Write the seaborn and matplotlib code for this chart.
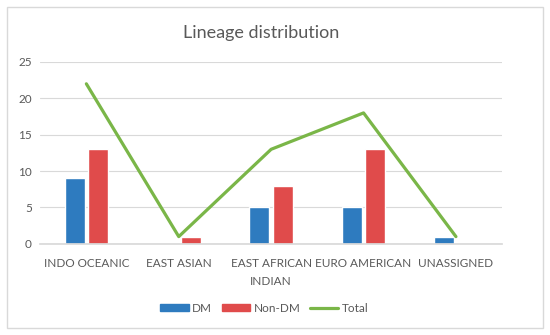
import matplotlib
matplotlib.use("Agg")
import matplotlib.pyplot as plt
import matplotlib.patches as mpatches
from matplotlib.lines import Line2D
import seaborn as sns
import pandas as pd
import numpy as np

categories = ["INDO OCEANIC", "EAST ASIAN", "EAST AFRICAN\nINDIAN", "EURO AMERICAN", "UNASSIGNED"]
dm = [9, 0, 5, 5, 1]
non_dm = [13, 1, 8, 13, 0]
total = [22, 1, 13, 18, 1]

blue = "#2E7BBF"
red = "#E04B4B"
green = "#7AB648"
grey_text = "#595959"

sns.set_theme(style="white")
plt.rcParams["font.family"] = ["Lato", "DejaVu Sans"]

df = pd.DataFrame({
    "lineage": categories * 2,
    "count": dm + non_dm,
    "group": ["DM"] * len(categories) + ["Non-DM"] * len(categories),
})

fig = plt.figure(figsize=(5.5, 3.35), dpi=100)
ax = fig.add_axes([0.073, 0.272, 0.84, 0.543])

sns.barplot(data=df, x="lineage", y="count", hue="group", order=categories,
            palette={"DM": blue, "Non-DM": red}, width=0.51, gap=0.15,
            saturation=1, legend=False, ax=ax)
sns.lineplot(x=np.arange(len(categories)), y=total, color=green, linewidth=2.3, ax=ax)

ax.set_ylim(0, 25)
ax.set_yticks([0, 5, 10, 15, 20, 25])
ax.set_xlim(-0.5, len(categories) - 0.5)
ax.yaxis.grid(True, color="#D9D9D9", linewidth=0.8)
ax.set_axisbelow(True)
for side in ["top", "right", "left"]:
    ax.spines[side].set_visible(False)
ax.spines["bottom"].set_color("#D9D9D9")
ax.set_xlabel("")
ax.set_ylabel("")
ax.tick_params(axis="y", length=0, labelsize=8.5, labelcolor=grey_text, pad=6)
ax.tick_params(axis="x", length=0, labelsize=8.5, labelcolor=grey_text, pad=10.5)
for lbl in ax.get_xticklabels():
    lbl.set_linespacing(1.75)

fig.text(0.475, 0.902, "Lineage distribution", ha="center", va="center",
         fontsize=13, color=grey_text)

handles = [
    mpatches.Patch(color=blue, label="DM"),
    mpatches.Patch(color=red, label="Non-DM"),
    Line2D([0], [0], color=green, linewidth=2.3, label="Total"),
]
fig.legend(handles=handles, loc="center", bbox_to_anchor=(0.481, 0.08), ncol=3,
           frameon=False, fontsize=8.5, labelcolor=grey_text,
           handlelength=2.4, handleheight=0.6, columnspacing=0.8, handletextpad=0.3)

fig.patches.append(mpatches.Rectangle((0.013, 0.02), 0.974, 0.96, transform=fig.transFigure,
                                      fill=False, edgecolor="#D9D9D9", linewidth=1))

fig.savefig("out.png", dpi=100)
